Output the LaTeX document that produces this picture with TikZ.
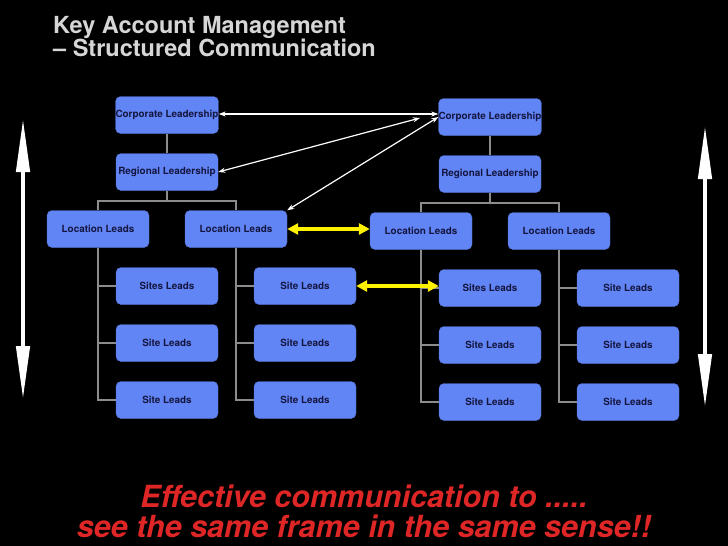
\documentclass[tikz,border=0pt]{standalone}
\usepackage{fontspec}
\setmainfont{TeX Gyre Heros}
\usepackage{xcolor}
\usepackage{tikz}
\usetikzlibrary{arrows.meta, positioning}
\definecolor{boxblue}{RGB}{98,133,245}
\definecolor{boxtext}{RGB}{20,22,64}
\definecolor{slidered}{RGB}{222,38,38}

\begin{document}
\begin{tikzpicture}[
    x=1pt, y=-1pt,
    lead/.style={rectangle, rounded corners=5pt, draw=boxblue!85!black,
                 fill=boxblue, minimum width=102pt, minimum height=37pt,
                 text=boxtext, inner sep=0pt,
                 font=\fontsize{9.9}{11}\selectfont\bfseries},
    wire/.style={gray!90, line width=2pt},
    link/.style={{Stealth[length=7pt, width=5pt]}-{Stealth[length=7pt, width=5pt]},
                 white, line width=1.2pt},
    sync/.style={{Triangle[length=11pt, width=11pt]}-{Triangle[length=11pt, width=11pt]},
                 yellow, line width=4pt},
    span/.style={{Triangle[length=54pt, width=13pt]}-{Triangle[length=54pt, width=13pt]},
                 white, line width=4.5pt}
  ]

  \fill[black] (0,0) rectangle (728,546);

  \node[anchor=north west, align=left, inner sep=0pt, text=white!84!black,
        font=\fontsize{23.5}{21}\selectfont\bfseries] (title) at (53,16)
        {Key Account Management\\– Structured Communication};

  % two account trees, same layout
  \foreach \t/\dx/\dy in {L/0/0, R/323/2} {
    \begin{scope}[shift={(\dx,\dy)}]
      \node[lead] (corp\t) at (167,115) {Corporate Leadership};
      \node[lead] (reg\t)  at (167,172) {Regional Leadership};
      \draw[wire] (corp\t.south) -- (reg\t.north);
      \foreach \c/\x in {1/98, 2/236} {
        \node[lead] (loc\t\c) at (\x,229) {Location Leads};
        \draw[wire] (reg\t.south) -- ++(0,10) -| (loc\t\c.north);
        \foreach \r/\y in {1/286, 2/343, 3/400} {
          \node[lead] (site\t\c\r) at (\x+69,\y)
                {\ifnum\c\r=11 Sites\else Site\fi\ Leads};
          \draw[wire] (loc\t\c.south) |- (site\t\c\r.west);
        }
      }
    \end{scope}
  }

  \coordinate (aim) at (420,118);
  \draw[link] ([yshift=1pt]corpL.east) -- ([yshift=3pt]corpR.west);
  \draw[link] (regL.east) -- (aim);
  \draw[link] (locL2.north east) -- (corpR.west);

  \draw[sync] (locL2.east) -- (locL2.east -| locR1.west);
  \draw[sync] (siteL21.east) -- (siteL21.east -| siteR11.west);

  \coordinate (topL) at (23,118);
  \coordinate (botL) at (23,400);
  \coordinate (topR) at (705,125);
  \coordinate (botR) at (705,408);
  \draw[span] (topL) -- (botL);
  \draw[span] (topR) -- (botR);

  \node[anchor=south, align=center, inner sep=0pt, text=slidered,
        font=\fontsize{30.5}{30}\selectfont\bfseries\itshape] (motto) at (364,538)
        {Effective communication to .....\\see the same frame in the same sense!!};

\end{tikzpicture}
\end{document}
